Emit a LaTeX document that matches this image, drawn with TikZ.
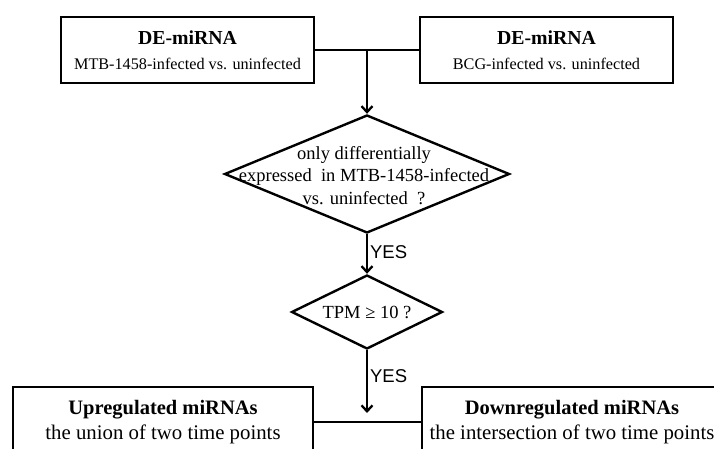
\documentclass[tikz,border=0pt]{standalone}
\usepackage{fontspec}
\setmainfont{Liberation Serif}
\newfontfamily\yesfont{Liberation Sans}
\usetikzlibrary{shapes.geometric,arrows.meta}

\begin{document}
\begin{tikzpicture}[x=1pt,y=-1pt,line width=2.3pt,
  topbox/.style={draw,rectangle,line width=2.6pt,align=center,inner sep=0pt,
    minimum width=253pt,minimum height=66pt,font=\fontsize{16.2}{25}\selectfont},
  lowbox/.style={draw,rectangle,line width=2.6pt,align=center,inner sep=0pt,
    minimum width=300pt,minimum height=70pt,font=\fontsize{20.8}{25}\selectfont},
  decision/.style={draw,diamond,line width=2.4pt,inner sep=0pt},
  qtext/.style={align=center,inner sep=0pt,font=\fontsize{18.5}{22.5}\selectfont},
  yes/.style={font=\yesfont\fontsize{18.5}{20}\selectfont,inner sep=2pt},
  flow/.style={-{Straight Barb[length=6pt,width=11pt]}}]
  \useasboundingbox (0,0) rectangle (714,449);
  \clip (0,0) rectangle (714,449);
  % sources
  \node[topbox] (mtb) at (187.5,50)
    {{\bfseries\fontsize{19.8}{25}\selectfont DE-miRNA}\\MTB-1458-infected vs. uninfected};
  \node[topbox] (bcg) at (546.5,50)
    {{\bfseries\fontsize{19.8}{25}\selectfont DE-miRNA}\\BCG-infected vs. uninfected};
  \coordinate (j1) at (367,50);
  % filters
  \node[decision,minimum width=285pt,minimum height=118pt] (q1) at (367,174) {};
  \node[qtext] (q1t) at (364,175.5)
    {only differentially\\expressed\ \ in MTB-1458-infected\\vs. uninfected\ \ ?};
  \node[decision,minimum width=151pt,minimum height=74pt] (q2) at (367,312) {};
  \node[qtext] (q2t) at (367,312) {TPM ≥ 10 ?};
  \coordinate (j2) at (367,413);
  % results
  \node[lowbox] (up) at (163,422)
    {{\bfseries\fontsize{20.5}{25}\selectfont Upregulated miRNAs}\\the union of two time points};
  \node[lowbox] (down) at (572,422)
    {{\bfseries\fontsize{20.5}{25}\selectfont Downregulated miRNAs}\\the intersection of two time points};

  \draw (mtb.east) -- (bcg.west);
  \draw[flow] (j1) -- (q1.north);
  \draw[flow] (q1.south) -- node[yes,pos=.45,right] {YES} (q2.north);
  \draw[flow] (q2.south) -- node[yes,pos=.42,right] {YES} (j2);
  \draw (up.east) -- (down.west);
\end{tikzpicture}
\end{document}
